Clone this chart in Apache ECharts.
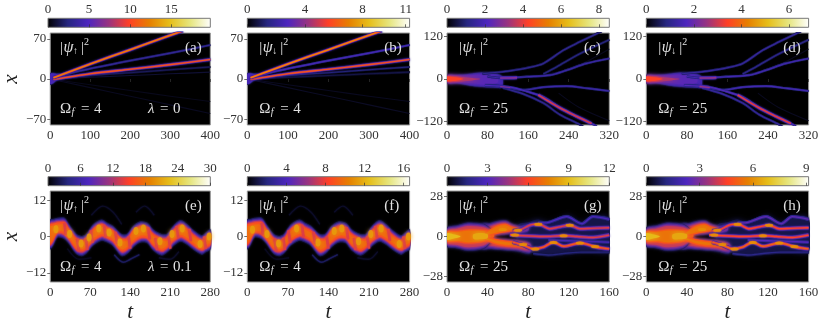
<!DOCTYPE html>
<html lang="en">
<head>
    <meta charset="UTF-8">
    <title>Chart</title>
    <style>html,body{margin:0;background:#fff}</style>
</head>
<body>
<div id="main" style="width:822px;height:324px;"></div>
<script src="https://cdn.jsdelivr.net/npm/echarts@6/dist/echarts.min.js"></script>
<script>
    // colour bar ranges and ticks, panels a to h
    var barMax = [19.75, 11.27, 8.54, 6.82, 30, 16.6, 12, 9.13];
    var barTicks = [
        [0, 5, 10, 15], [0, 4, 8, 11], [0, 2, 4, 6, 8], [0, 2, 4, 6],
        [0, 6, 12, 18, 24, 30], [0, 4, 8, 12, 16], [0, 3, 6, 9, 12], [0, 3, 6, 9]
    ];
    var tMax = [400, 400, 320, 320, 280, 280, 160, 160];
    var tStep = [100, 100, 80, 80, 70, 70, 40, 40];
    var xMax = [80, 80, 130, 130, 15, 15, 32, 32];
    var xTicks = [
        [-70, 0, 70], [-70, 0, 70], [-120, 0, 120], [-120, 0, 120],
        [-12, 0, 12], [-12, 0, 12], [-28, 0, 28], [-28, 0, 28]
    ];
    var panelTags = ['(a)', '(b)', '(c)', '(d)', '(e)', '(f)', '(g)', '(h)'];
    var spinArrow = ['↑', '↓', '↑', '↓', '↑', '↓', '↑', '↓'];
    var omegaVal = ['4', '4', '25', '25', '4', '4', '25', '25'];
    var lambdaVal = ['0', '', '', '', '0.1', '', '', ''];

    // bright tracks, [t, x]
    var rayA1 = [[8, 2], [100, 26], [200, 51], [316, 80], [332, 84]];
    var rayA2 = [[8, 3], [100, 18], [200, 32], [300, 45], [400, 59]];
    var rayA3 = [[8, -1], [100, 9], [200, 17], [300, 25], [400, 34]];
    var rayA4 = [[8, 0], [100, 6], [200, 11], [300, 16], [400, 21]];
    var rayA5 = [[8, 0], [100, 3], [200, 6], [300, 9], [400, 12]];
    var rayA6 = [[20, -2], [100, -10], [200, -20], [300, -30], [400, -39]];
    var rayA7 = [[20, -3], [100, -15], [200, -30], [300, -45], [400, -60]];
    var raysAB = [rayA6, rayA7, rayA5, rayA4, rayA2, rayA3, rayA1];
    var rayLevelsA = [0.025, 0.03, 0.05, 0.09, 0.17, 0.54, 0.64];
    var rayLevelsB = [0.03, 0.035, 0.07, 0.12, 0.23, 0.54, 0.66];
    var blobA = [[0, 10, -10], [8, 11, -8], [16, 10, -3], [26, 9, 3]];

    var branchC1 = [[70, 15], [100, 19], [124, 23], [160, 32], [190, 44], [229, 81], [262, 105], [295, 128], [305, 135]];
    var branchC2 = [[80, 7], [105, 3], [118, 3], [157, 6.5], [203, 11], [236, 25], [275, 44], [320, 58]];
    var branchC3 = [[190, 14], [216, 34], [260, 70], [320, 111]];
    var branchC4 = [[75, -17], [104, -20], [150, -31], [190, -23], [236, -20], [275, -26], [320, -34]];
    var branchC5 = [[75, -18], [124, -23], [157, -35], [190, -51], [223, -82], [256, -106], [290, -129], [295, -135]];
    var branchC6 = [[110, -25], [150, -42], [190, -68], [223, -101], [262, -129], [270, -137]];
    var branchC7 = [[200, 15], [250, 32], [320, 85]];
    var branchC8 = [[220, -40], [260, -80], [320, -118]];
    var hotC1 = [[105, 3], [120, 3], [138, 4]];
    var hotC2 = [[180, -45], [223, -82], [256, -106], [285, -126]];
    var hotC3 = [[105, -21], [125, -24]];
    var branchesCD = [branchC7, branchC8, branchC3, branchC1, branchC6, branchC4, branchC2, branchC5, hotC1, hotC2, hotC3];
    var branchLevelsC = [0.03, 0.03, 0.13, 0.16, 0.16, 0.2, 0.2, 0.24, 0.36, 0.46, 0.34];
    var branchLevelsD = [0.03, 0.03, 0.15, 0.18, 0.18, 0.22, 0.22, 0.26, 0.38, 0.48, 0.38];
    var blobC = [[0, 11, -12], [20, 12, -13], [40, 14, -18], [60, 18, -22], [80, 19, -24], [95, 17, -25], [108, 8, -24]];
    var midC = [[0, 9, -9], [30, 9, -10], [60, 12, -14], [85, 10, -16], [100, 4, -10]];
    var redC = [[0, 8, -8], [15, 8, -8], [30, 6, -7], [50, 3, -4], [65, 0.5, -1]];
    var coreC = [[0, 6, -6], [10, 6, -6], [20, 4, -4], [32, 0.5, -0.5]];

    // zigzag band, [t, upper edge, lower edge]
    var bandE = [
        [0, 5.6, -4.3], [5, 5.8, -3], [13, 6.2, -0.3], [25, 6.2, -0.9], [33, 4, -2.5], [45, 1, -5.7],
        [55, 0.2, -6.5], [63, 0.8, -5.7], [75, 4, -3], [90, 5.6, -1.4], [100, 4.5, -2], [110, 3.5, -3.2],
        [125, 0.8, -6.5], [135, 1, -5.7], [145, 3.5, -3.6], [158, 5, -2], [170, 4.5, -2.2], [180, 2.4, -4.6],
        [195, 0.8, -6.3], [205, 1, -5.2], [215, 3.5, -3.2], [228, 5.4, -1.7], [240, 4, -2.8], [250, 2.2, -4.3],
        [265, 0.4, -6], [272, 1.3, -5.2], [280, 2.4, -4.3]
    ];
    var spotsE = [
        [10, 2.4], [34, 0.8], [54, -2.3], [68, -0.3], [85, 2.6], [103, 1.3],
        [122, -2], [150, 1.8], [163, 2.6], [192, -1.6], [213, 0.8], [231, 2.6],
        [262, -2.5], [278, 0]
    ];
    var spotsF = [
        [9, 2.2], [34, 0.8], [54, -2.3], [85, 2.6], [122, -2], [150, 1.8],
        [163, 2.6], [192, -1.6], [213, 0.8], [231, 2.6], [262, -2.5], [278, 0]
    ];
    var streakE1 = [[25, 4.5], [27, 0.5]];
    var streakE2 = [[47, -0.8], [50, -4.8]];
    var streakE3 = [[62, -0.4], [65, -4.4]];
    var streakE4 = [[71, 2], [74, -2]];
    var streakE5 = [[94, 3.8], [97, -0.2]];
    var streakE6 = [[114, 1.5], [117, -2.5]];
    var streakE7 = [[137, 0], [140, -4]];
    var streakE8 = [[171, 3], [174, -1]];
    var streakE9 = [[184, -0.5], [187, -4.5]];
    var streakE10 = [[207, 0], [210, -4]];
    var streakE11 = [[221, 3.5], [224, -0.5]];
    var streakE12 = [[243, 2.5], [246, -1.5]];
    var streakE13 = [[269, 0], [272, -4]];
    var streaksEF = [streakE1, streakE2, streakE3, streakE4, streakE5, streakE6, streakE7, streakE8, streakE9, streakE10, streakE11, streakE12, streakE13];
    var faintE1 = [[72, 7], [92, 10], [110, 8], [125, 4]];
    var faintE2 = [[150, 8], [165, 10], [182, 7]];
    var faintE3 = [[112, -6], [128, -8.5], [140, -7.5], [156, -6]];
    var faintE4 = [[190, -7], [210, -7.5], [225, -5]];
    var faintE5 = [[30, -4], [50, -7.5], [72, -7]];
    var faintEF = [faintE1, faintE2, faintE3, faintE4, faintE5];
    var faintLevels = [0.04, 0.04, 0.09, 0.04, 0.03];

    var blobG = [[0, 6.3, -7], [10, 8, -8.4], [20, 9.8, -10], [30, 9.6, -9.6], [38, 8.5, -8], [46, 3, -1]];
    var orangeG = [[0, 3.5, -3.5], [10, 4, -4], [20, 5, -5], [30, 5, -4.5], [38, 4.5, -3.5], [46, 2, -0.5]];
    var yellowG1 = [[0, 2.2, -2.2], [6, 1.6, -1.6], [13, 0.4, -0.4]];
    var yellowG2 = [[26, 1.5, -1.5], [33, 2.5, -2], [40, 1.5, -1]];
    var lobeG1 = [[35, 9, -5], [42, 9.5, -1], [50, 11, 0.5], [58, 11.5, 1], [65, 9, 1.5], [72, 8, 1.5], [80, 9, 3]];
    var lobeG2 = [[35, 5, -9], [42, 1, -9], [50, -1, -9.5], [60, -1.5, -10], [70, -2, -10.5], [82, -4, -12]];
    var orangeG1 = [[38, 3, 0], [42, 5, 0.5], [50, 8, 2], [58, 9, 3], [64, 7, 3.5], [70, 6, 3.5]];
    var orangeG2 = [[38, 0, -3], [42, -0.5, -4], [50, -2, -6], [60, -3, -7], [70, -3.5, -7.5], [80, -5.5, -8.5]];
    var hazeG = [[70, 8, -9], [80, 10, -11], [90, 12, -12], [100, 10, -13], [110, 12, -13], [120, 15, -12], [132, 10, -11], [145, 14, -11], [160, 13, -11]];
    var trackG1 = [[65, 3.9], [72, 4.6], [85, 8.5], [93, 8], [101, 5.5], [110, 6.6], [121, 8], [131, 5.5], [141, 5.7], [160, 6.2]];
    var trackG2 = [[90, 9.5], [98, 9.6], [118, 14], [133, 9], [144, 14], [160, 12]];
    var trackG3 = [[62, 1.2], [75, 0.5], [95, 0], [115, 0.5], [128, 0], [144, -0.7], [160, 1]];
    var trackG4 = [[65, -4], [75, -6], [85, -8.7], [95, -7.5], [105, -4], [115, -6.9], [131, -4.6], [148, -7.5], [160, -8.7]];
    var trackG5 = [[100, -2.5], [120, -3], [140, -3.5], [160, -4]];
    var trackG6 = [[85, -12], [100, -13], [115, -12], [132, -11], [148, -11], [160, -11]];
    var tracksGH = [trackG6, trackG5, trackG2, trackG1, trackG3, trackG4];
    var trackLevelsG = [0.12, 0.22, 0.24, 0.46, 0.46, 0.54];
    var trackLevelsH = [0.14, 0.26, 0.28, 0.5, 0.5, 0.56];
    var spotsG = [[70, 4.4], [90, 8.6], [121, 8], [75, -5.6], [87, -8.8], [105, -4.2], [131, -4.6], [146, -7], [67, 1], [115, 0.5], [55, 5]];

    // colormap of the original figure
    var cmapStops = [[0, 0, 0], [38, 38, 128], [77, 38, 191], [153, 51, 128], [255, 64, 38], [230, 128, 0], [230, 191, 26], [230, 230, 128], [255, 255, 255]];

    function cm(l) {
        var p = Math.min(l, 1) * 8, i = Math.min(Math.floor(p), 7), f = p - i;
        var a = cmapStops[i], b = cmapStops[i + 1];
        return 'rgb(' + [0, 1, 2].map(function (k) {
            return Math.round(a[k] + (b[k] - a[k]) * f);
        }).join(',') + ')';
    }

    var lefts = [48, 247.3, 447, 646.3];
    var plotW = 162.3;
    var rowTop = [33, 191];
    var rowH = 92;
    var barTop = [18.3, 176.7];
    var serif = 'Liberation Serif';

    var bandInsetsE = [[0, 0.08], [0.4, 0.17], [0.8, 0.28], [1.2, 0.42], [1.6, 0.52], [2.3, 0.58]];
    var bandInsetsG = [[0, 0.08], [0.8, 0.18], [1.6, 0.3], [2.5, 0.42]];
    var bandInsetsC = [[0, 0.1], [2, 0.17], [4, 0.22]];

    var grids = [], xAxes = [], yAxes = [], series = [], graphics = [];
    var zOrder = 1;

    function addBand(g, pts, inset, level, blur) {
        series.push({
            type: 'custom', xAxisIndex: g, yAxisIndex: g, silent: true, clip: true, z: zOrder++,
            data: pts,
            renderItem: function (params, api) {
                if (params.dataIndex !== 0) return null;
                var up = [], down = [];
                pts.forEach(function (p) {
                    var mid = (p[1] + p[2]) / 2;
                    up.push(api.coord([p[0], Math.max(p[1] - inset, mid)]));
                    down.unshift(api.coord([p[0], Math.min(p[2] + inset, mid)]));
                });
                return {
                    type: 'polygon',
                    shape: {points: up.concat(down), smooth: 0.3},
                    style: {fill: cm(level), shadowBlur: blur, shadowColor: cm(level)}
                };
            }
        });
    }

    function addLine(g, pts, level, width, blur) {
        series.push({
            type: 'line', xAxisIndex: g, yAxisIndex: g, silent: true, z: zOrder++,
            data: pts, symbol: 'none', smooth: 0.3,
            lineStyle: {color: cm(level), width: width, cap: 'butt', join: 'round', shadowBlur: blur, shadowColor: cm(level)}
        });
    }

    function addTrack(g, pts, level, core, halo) {
        if (level > 0.35) {
            addLine(g, pts, 0.2, halo + 1, 2);
            addLine(g, pts, level * 0.75, halo, 0);
        } else if (level > 0.06) {
            addLine(g, pts, level * 0.55, halo, 1);
        }
        addLine(g, pts, level, core, 0);
    }

    function addSpots(g, pts, level, size, blur) {
        series.push({
            type: 'scatter', xAxisIndex: g, yAxisIndex: g, silent: true, z: zOrder++,
            data: pts, symbol: 'circle', symbolSize: size,
            itemStyle: {color: cm(level), shadowBlur: blur, shadowColor: cm(level), opacity: 0.85}
        });
    }

    function put(text, x, y, size, italic) {
        graphics.push({
            type: 'text', x: x, y: y, silent: true, z: 100,
            style: {
                text: text, fill: '#e2e2e2', fontFamily: serif, fontSize: size,
                fontStyle: italic ? 'italic' : 'normal', verticalAlign: 'middle'
            }
        });
    }

    function addPanel(n) {
        var col = n % 4, row = n < 4 ? 0 : 1;
        var left = lefts[col], top = rowTop[row], g = n * 2, b = n * 2 + 1;
        grids.push({
            left: left, top: top, width: plotW, height: rowH, show: true,
            backgroundColor: '#000', borderColor: '#999', borderWidth: 1
        });
        grids.push({
            left: left, top: barTop[row], width: plotW, height: 9, show: true, borderColor: '#777', borderWidth: 1,
            backgroundColor: new echarts.graphic.LinearGradient(0, 0, 1, 0, cmapStops.map(function (c, i) {
                return {offset: i / 8, color: cm(i / 8)};
            }))
        });
        var labelStyle = {color: '#333', fontFamily: serif, fontSize: 13, margin: 4};
        var tickStyle = {length: 3, lineStyle: {color: '#333', width: 0.7}};
        xAxes.push({
            gridIndex: g, type: 'value', min: 0, max: tMax[n], interval: tStep[n],
            splitLine: {show: false}, axisLine: {show: false},
            axisTick: tickStyle, axisLabel: labelStyle,
            name: row === 1 ? 't' : '', nameLocation: 'middle', nameGap: 20,
            nameTextStyle: {color: '#222', fontFamily: serif, fontStyle: 'italic', fontSize: 21}
        });
        yAxes.push({
            gridIndex: g, type: 'value', min: -xMax[n], max: xMax[n],
            splitLine: {show: false}, axisLine: {show: false},
            axisTick: Object.assign({customValues: xTicks[n]}, tickStyle),
            axisLabel: Object.assign({
                customValues: xTicks[n],
                formatter: function (v) { return String(v).replace('-', '\u2212'); }
            }, labelStyle),
            name: col === 0 ? 'x' : '', nameLocation: 'middle', nameGap: 27,
            nameTextStyle: {color: '#222', fontFamily: serif, fontStyle: 'italic', fontSize: 21}
        });
        xAxes.push({
            gridIndex: b, type: 'value', position: 'top', min: 0, max: barMax[n],
            splitLine: {show: false}, axisLine: {show: false},
            axisTick: Object.assign({customValues: barTicks[n]}, tickStyle),
            axisLabel: Object.assign({customValues: barTicks[n]}, labelStyle, {margin: 2})
        });
        yAxes.push({gridIndex: b, type: 'value', min: 0, max: 1, show: false});

        var levels;
        if (col < 2 && row === 0) {
            levels = n === 0 ? rayLevelsA : rayLevelsB;
            addBand(g, blobA, 0, 0.1, 2);
            addBand(g, blobA, 1.5, 0.23, 1);
            raysAB.forEach(function (r, i) { addTrack(g, r, levels[i], 1.1, 2.1); });
        } else if (row === 0) {
            levels = n === 2 ? branchLevelsC : branchLevelsD;
            bandInsetsC.forEach(function (s) { addBand(g, blobC, s[0], s[1], 2); });
            addBand(g, midC, 0, 0.27, 4);
            addBand(g, redC, 0, 0.4, 4);
            addBand(g, coreC, 0, 0.5, 3);
            branchesCD.forEach(function (r, i) { addTrack(g, r, levels[i], 1.1, 2.2); });
        } else if (col < 2) {
            faintEF.forEach(function (r, i) { addLine(g, r, faintLevels[i], 1.4, 2); });
            bandInsetsE.forEach(function (s) { addBand(g, bandE, s[0], s[1], 2); });
            streaksEF.forEach(function (r) { addLine(g, r, 0.46, 2.5, 2); });
            addSpots(g, n === 4 ? spotsE : spotsF, 0.68, [5, 8], 4);
        } else {
            levels = n === 6 ? trackLevelsG : trackLevelsH;
            addBand(g, hazeG, 0, 0.07, 5);
            [lobeG1, lobeG2, blobG].forEach(function (p) {
                bandInsetsG.forEach(function (s) { addBand(g, p, s[0], s[1], 3); });
            });
            [orangeG, orangeG1, orangeG2].forEach(function (p) {
                addBand(g, p, 0, 0.52, 4);
                addBand(g, p, 1, 0.6, 3);
            });
            addBand(g, yellowG1, 0, 0.74, 4);
            addBand(g, yellowG2, 0, 0.7, 4);
            tracksGH.forEach(function (r, i) { addTrack(g, r, levels[i], 1.4, 3); });
            addSpots(g, spotsG, 0.65, [8, 3], 2);
        }

        var bottom = top + rowH - 16, y = top + 15, x = left + 12;
        put('|', x, y, 15);
        put('ψ', x + 3.5, y, 16, true);
        put(spinArrow[n], x + 13, y + 3, 10);
        put('|', x + 21, y, 15);
        put('2', x + 24, y - 6, 10);
        put(panelTags[n], left + 137, y, 15);
        put('Ω', x, bottom, 15);
        put('f', x + 11.5, bottom + 3, 10, true);
        put('=', x + 21, bottom, 15);
        put(omegaVal[n], x + 34, bottom, 15);
        if (lambdaVal[n]) {
            put('λ', left + 100, bottom, 15, true);
            put('=', left + 112, bottom, 15);
            put(lambdaVal[n], left + 125, bottom, 15);
        }
    }

    for (var n = 0; n < 8; n++) addPanel(n);

    var myChart = echarts.init(document.getElementById('main'));
    myChart.setOption({
        animation: false,
        backgroundColor: '#fff',
        grid: grids,
        xAxis: xAxes,
        yAxis: yAxes,
        series: series,
        graphic: graphics
    });
</script>
</body>
</html>
